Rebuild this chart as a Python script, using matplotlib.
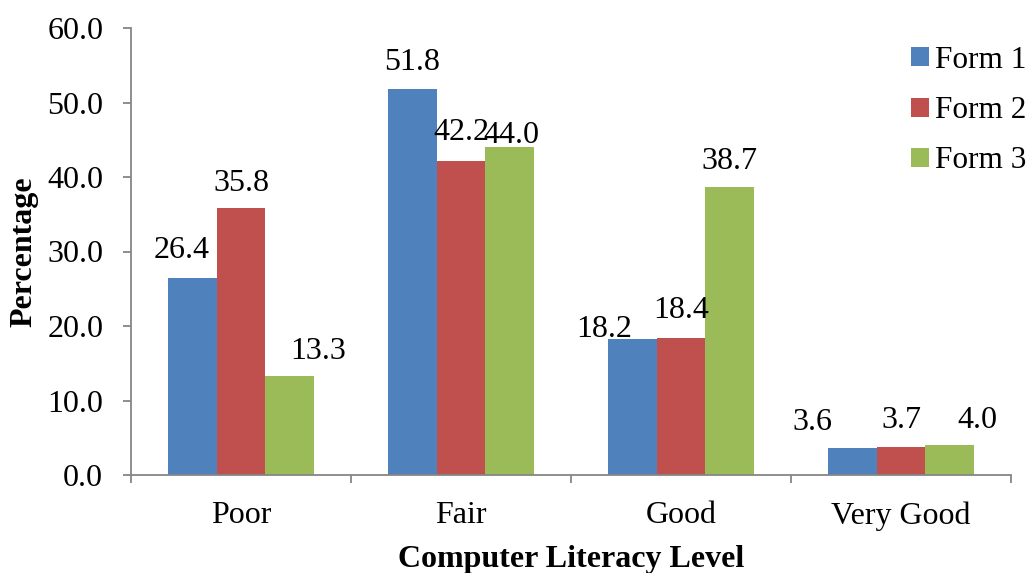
import numpy as np
import matplotlib
matplotlib.use("Agg")
import matplotlib.pyplot as plt
from matplotlib.ticker import FixedLocator, NullFormatter, FormatStrFormatter

# data
levels = ["Poor", "Fair", "Good", "Very Good"]
series = ["Form 1", "Form 2", "Form 3"]
form1 = [26.4, 51.8, 18.2, 3.6]
form2 = [35.8, 42.2, 18.4, 3.7]
form3 = [13.3, 44.0, 38.7, 4.0]
colors = ["#4F81BD", "#C0504D", "#9BBB59"]

# label nudges in pixels (dx, dy above bar top), as placed in the original
label_dx = [[-11, 0, -28, -40], [0, 0, 0, 0], [28, 2, 0, 28]]
label_dy = [[28, 27, 10, 26], [25, 28, 27, 27], [24, 12, 25, 25]]

plt.rcParams["font.family"] = ["Liberation Serif", "DejaVu Serif"]
FS = 23
GRAY = "#868686"

fig = plt.figure(figsize=(10.31, 5.73), dpi=100)
ax = fig.add_axes([131 / 1031, 1 - 475 / 573, 880 / 1031, 447 / 573])

x = np.arange(len(levels))
w = 0.222
values = [form1, form2, form3]
for i, (vals, name, c) in enumerate(zip(values, series, colors)):
    bars = ax.bar(x + (i - 1) * w, vals, w, color=c, label=name, linewidth=0)
    for j, b in enumerate(bars):
        ax.annotate(f"{vals[j]:.1f}",
                    (b.get_x() + b.get_width() / 2, b.get_height()),
                    xytext=(label_dx[i][j], label_dy[i][j]),
                    textcoords="offset pixels", ha="center", va="center",
                    fontsize=FS)

ax.set_xlim(-0.5, len(levels) - 0.5)
ax.set_ylim(0, 60)
ax.set_yticks(np.arange(0, 61, 10))
ax.yaxis.set_major_formatter(FormatStrFormatter("%.1f"))

ax.xaxis.set_major_locator(FixedLocator(np.arange(len(levels) + 1) - 0.5))
ax.xaxis.set_major_formatter(NullFormatter())
ax.xaxis.set_minor_locator(FixedLocator(x))
ax.set_xticks(x, levels, minor=True)
ax.tick_params(axis="x", which="minor", length=0, pad=19, labelsize=FS)
ax.tick_params(axis="x", which="major", length=6, width=1.3, color=GRAY, direction="out")
ax.tick_params(axis="y", length=6, width=1.3, color=GRAY, pad=14, labelsize=FS)

for s in ["top", "right"]:
    ax.spines[s].set_visible(False)
for s in ["left", "bottom"]:
    ax.spines[s].set_color(GRAY)
    ax.spines[s].set_linewidth(1.3)

ax.set_xlabel("Computer Literacy Level", fontsize=FS, fontweight="bold", labelpad=10)
ax.set_ylabel("Percentage", fontsize=FS, fontweight="bold", labelpad=6)

fig.legend(loc="upper left", bbox_to_anchor=(911 / 1031, 1 - 46 / 573),
           frameon=False, fontsize=22.5, handlelength=0.56, handleheight=0.56,
           handletextpad=0.2, labelspacing=0.68, borderpad=0, borderaxespad=0)

fig.savefig("out.png", dpi=100)
